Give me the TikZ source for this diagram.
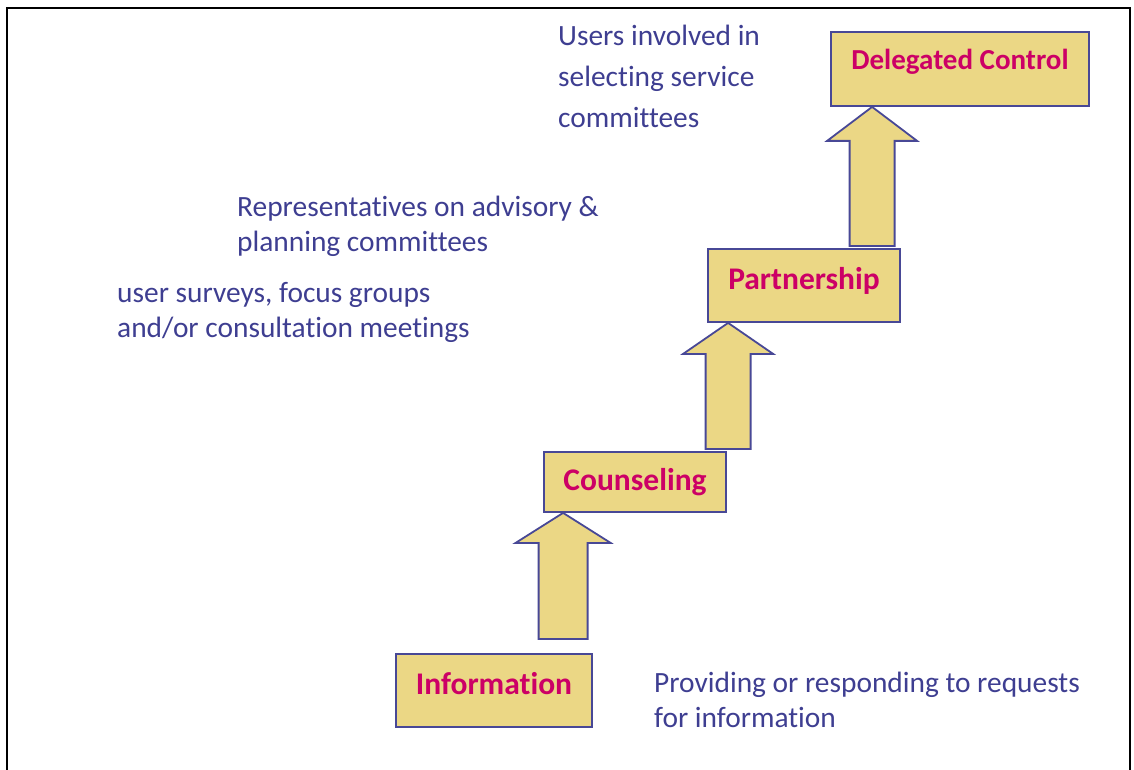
\documentclass[tikz,border=0pt]{standalone}
\usepackage{fontspec}
\setmainfont{Carlito}[Ligatures=NoCommon]
\usetikzlibrary{calc}
\definecolor{boxfill}{RGB}{235,215,133}
\definecolor{boxline}{RGB}{72,72,150}
\definecolor{labeltext}{RGB}{62,62,145}
\definecolor{steptext}{RGB}{204,0,102}
\newcommand{\upblockarrow}[5]{% tip, head length, shaft length, head half width, shaft half width
  \draw[blockarrow] (#1) -- ++(#4,#2) -- ++({-(#4-#5)},0) -- ++(0,#3) -- ++({-2*#5},0)
    -- ++(0,-#3) -- ++({-(#4-#5)},0) -- cycle;}
\begin{document}
\begin{tikzpicture}[x=1pt,y=-1pt,
  stepbox/.style={draw=boxline, line width=1.8pt, fill=boxfill, inner sep=0pt,
    text=steptext, font=\fontsize{31.5}{36}\selectfont\bfseries, text height=20pt},
  blockarrow/.style={draw=boxline, line width=1.8pt, fill=boxfill, line join=miter},
  note/.style={text=labeltext, font=\fontsize{29.4}{35}\selectfont, align=left,
    anchor=base west, inner sep=0pt},
  frame/.style={draw=black, line width=2.5pt}]
\useasboundingbox (0,0) rectangle (1134,770);
\draw[frame] (7,790) -- (7,8) -- (1130,8) -- (1130,790);

% step boxes
\node[stepbox, minimum width=196pt, minimum height=73pt, text depth=13pt] (info) at (494,690.5) {Information};
\node[stepbox, minimum width=182pt, minimum height=60pt, text depth=4pt] (couns) at (635,482) {Counseling};
\node[stepbox, minimum width=192pt, minimum height=73pt, text depth=13pt] (partner) at (804,285.5) {Partnership};
\node[stepbox, minimum width=258pt, minimum height=74pt, text depth=18pt,
  font=\fontsize{29}{34}\selectfont\bfseries] (deleg) at (960,69) {Delegated Control};

% block arrows, tip on the box above
\coordinate (t1) at ($(couns.south west)+(20,0)$);
\coordinate (t2) at ($(partner.south west)+(21,0)$);
\coordinate (t3) at ($(deleg.south west)+(42,0)$);
\upblockarrow{t1}{30}{96}{47.5}{24.5}
\upblockarrow{t2}{31}{95}{45}{22.5}
\upblockarrow{t3}{34}{105}{45}{22.5}

% descriptions (anchored at the baseline of their last line)
\node[note, font=\fontsize{29.4}{41}\selectfont] (n4) at (558,128) {Users involved in\\selecting service\\committees};
\node[note] (n3) at (237,251) {Representatives on advisory \&\\planning committees};
\node[note] (n2) at (117,337) {user surveys, focus groups\\and/or consultation meetings};
\node[note] (n1) at (654,727) {Providing or responding to requests\\for information};
\end{tikzpicture}
\end{document}
